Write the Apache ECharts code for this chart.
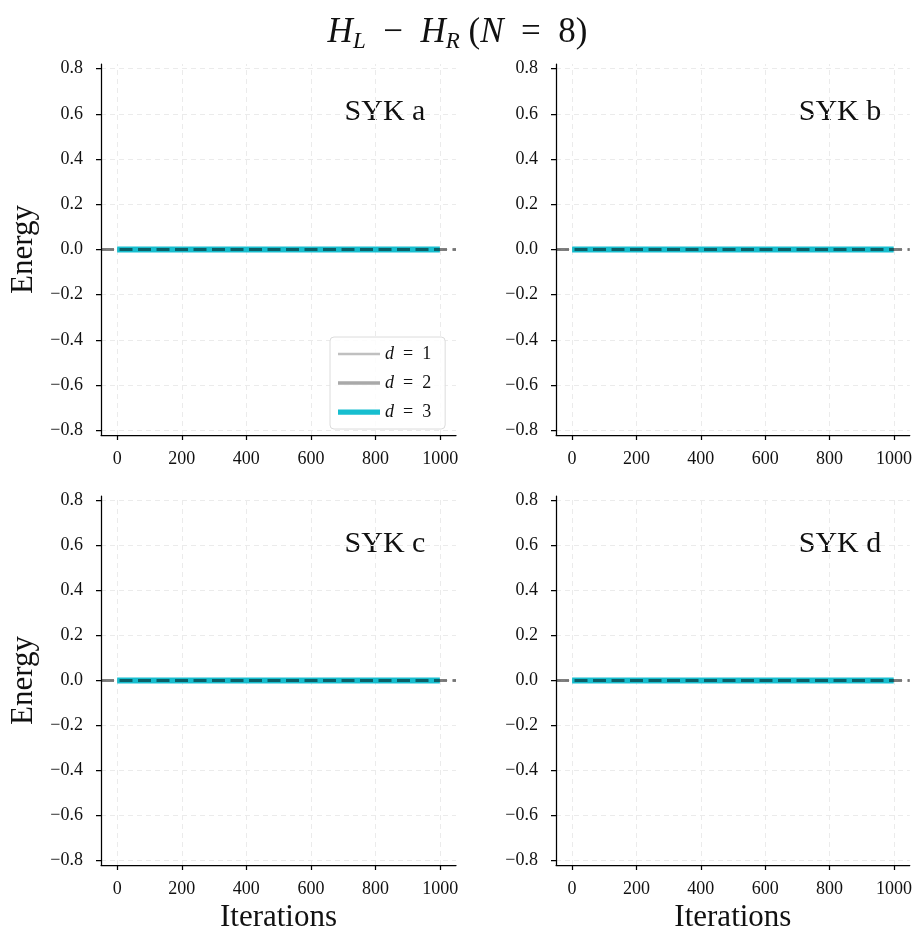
<!DOCTYPE html>
<html>
<head>
<meta charset="utf-8">
<script src="https://cdn.jsdelivr.net/npm/echarts@6/dist/echarts.min.js"></script>
<style>
html,body{margin:0;padding:0;background:#fff;}
#chart{width:915px;height:934px;}
</style>
</head>
<body>
<div id="chart"></div>
<script>
// ---- data ----
const panelLabels = ['SYK a', 'SYK b', 'SYK c', 'SYK d'];
const seriesNames = ['d = 1', 'd = 2', 'd = 3'];
const iterations = [0, 999];
const energyD1 = [0, 0];
const energyD2 = [0, 0];
const energyD3 = [0, 0];
const referenceLevel = 0;
const xTicks = [0, 200, 400, 600, 800, 1000];
const yTicks = [-0.8, -0.6, -0.4, -0.2, 0.0, 0.2, 0.4, 0.6, 0.8];

// ---- layout ----
const FONT = '"Liberation Serif", "DejaVu Serif", serif';
const panels = [
  {left: 101, top: 64},
  {left: 556, top: 64},
  {left: 101, top: 496},
  {left: 556, top: 496}
];
const PW = 355, PH = 371;
const lineStyles = [
  {color: '#c0c0c0', width: 2.5},
  {color: '#a9a9a9', width: 3.5},
  {color: '#17becf', width: 6}
];
const legendIconHeights = [2.5, 3.5, 5];
const valuesBySeries = [energyD1, energyD2, energyD3];

function fmtY(v) {
  const s = Math.abs(v).toFixed(1);
  return v < -1e-9 ? '\u2212' + s : s;
}

const grids = [], xAxes = [], yAxes = [], series = [], graphics = [];
panels.forEach((p, i) => {
  grids.push({left: p.left, top: p.top, width: PW, height: PH, containLabel: false});
  xAxes.push({
    type: 'value', gridIndex: i, min: -50, max: 1049,
    splitLine: {show: false},
    axisLine: {show: true, onZero: false, lineStyle: {color: '#000', width: 1.25}},
    axisTick: {show: true, length: 5, customValues: xTicks, lineStyle: {color: '#000', width: 1.25}},
    axisLabel: {customValues: xTicks, margin: 15, fontFamily: FONT, fontSize: 18, color: '#111', formatter: v => String(v)},
    name: i >= 2 ? 'Iterations' : '',
    nameLocation: 'middle', nameGap: 37,
    nameTextStyle: {fontFamily: FONT, fontSize: 31, color: '#111'}
  });
  yAxes.push({
    type: 'value', gridIndex: i, min: -0.82, max: 0.82,
    splitLine: {show: false},
    axisLine: {show: true, onZero: false, lineStyle: {color: '#000', width: 1.25}},
    axisTick: {show: true, length: 5, customValues: yTicks, lineStyle: {color: '#000', width: 1.25}},
    axisLabel: {customValues: yTicks, margin: 18, fontFamily: FONT, fontSize: 18, color: '#111', formatter: fmtY},
    name: (i % 2 === 0) ? 'Energy' : '',
    nameLocation: 'middle', nameGap: 62,
    nameTextStyle: {fontFamily: FONT, fontSize: 31, color: '#111'}
  });
  // grid lines
  series.push({
    type: 'line', name: 'grid' + i, xAxisIndex: i, yAxisIndex: i, data: [], z: 0,
    silent: true,
    markLine: {
      z: 0,
      silent: true, symbol: ['none', 'none'], label: {show: false},
      lineStyle: {color: '#ebebeb', width: 1, type: [5, 4]},
      emphasis: {disabled: true},
      data: xTicks.map(v => ({xAxis: v})).concat(yTicks.map(v => ({yAxis: v})))
    }
  });
  seriesNames.forEach((n, k) => {
    series.push({
      type: 'line', name: n, xAxisIndex: i, yAxisIndex: i, z: 2 + k,
      symbol: 'none', showSymbol: false,
      lineStyle: {color: lineStyles[k].color, width: lineStyles[k].width},
      itemStyle: {color: lineStyles[k].color},
      data: iterations.map((x, j) => [x, valuesBySeries[k][j]])
    });
  });
  // reference dashed line
  series.push({
    type: 'line', name: 'ref' + i, xAxisIndex: i, yAxisIndex: i, data: [], z: 10,
    silent: true,
    markLine: {
      z: 10,
      silent: true, symbol: ['none', 'none'], label: {show: false},
      lineStyle: {color: 'rgba(0,0,0,0.5)', width: 3, type: [13, 5.5]},
      emphasis: {disabled: true},
      data: [{yAxis: referenceLevel}]
    }
  });
  graphics.push({
    type: 'text',
    x: p.left + 284, y: p.top + 48,
    style: {text: panelLabels[i], fill: '#111', font: '30px ' + FONT, align: 'center', verticalAlign: 'middle'}
  });
});

const chart = echarts.init(document.getElementById('chart'), null, {renderer: 'canvas'});
chart.setOption({
  animation: false,
  backgroundColor: '#fff',
  title: {
    text: '{i|H}{s|L}\u2002\u2212\u2002{i|H}{s|R} ({i|N}\u2002=\u20028)',
    left: 'center', top: 8,
    textStyle: {
      fontFamily: FONT, fontSize: 35, fontWeight: 'normal', color: '#111',
      rich: {
        i: {fontFamily: FONT, fontSize: 35, fontStyle: 'italic', color: '#111', lineHeight: 40},
        s: {fontFamily: FONT, fontSize: 23, fontStyle: 'italic', color: '#111', lineHeight: 40, padding: [18, 0, 0, 0]}
      }
    }
  },
  legend: {
    data: seriesNames.map((n, k) => ({
      name: n,
      icon: 'path://M0,0H40V' + legendIconHeights[k] + 'H0Z',
      itemStyle: {color: lineStyles[k].color}
    })),
    orient: 'vertical', left: 330, top: 337,
    itemWidth: 42, itemHeight: 16, itemGap: 11,
    padding: [8, 14, 8, 8],
    backgroundColor: 'rgba(255,255,255,0.85)', borderColor: '#dcdcdc', borderWidth: 1, borderRadius: 4,
    formatter: n => '{i|d}' + n.slice(1).replace('=', ' = '),
    textStyle: {
      fontFamily: FONT, fontSize: 18, color: '#111',
      rich: {i: {fontFamily: FONT, fontSize: 18, fontStyle: 'italic', color: '#111'}}
    }
  },
  grid: grids, xAxis: xAxes, yAxis: yAxes, series: series,
  graphic: graphics
});
</script>
</body>
</html>
